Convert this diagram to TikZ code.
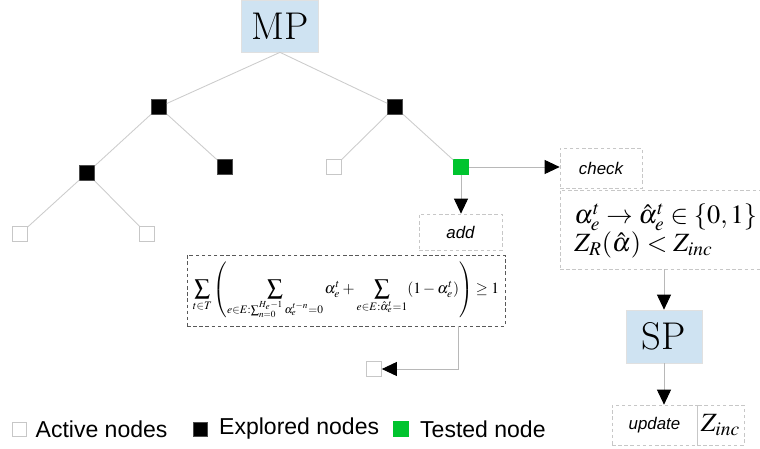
\documentclass[tikz,border=0pt]{standalone}
\usepackage{mathptmx}
\usepackage[no-math]{fontspec}
\setmainfont{Latin Modern Roman}
\newfontfamily\labelfont{Liberation Sans}
\usetikzlibrary{arrows.meta,positioning}
\definecolor{mpblue}{RGB}{207,227,242}
\definecolor{nodegreen}{RGB}{0,196,46}

\begin{document}
\begin{tikzpicture}[x=0.02cm,y=-0.02cm,
    tnode/.style={draw=black!22,minimum size=0.3cm,inner sep=0pt},
    explored/.style={tnode,fill=black,draw=black!70},
    active/.style={tnode,fill=white},
    tested/.style={tnode,fill=nodegreen,draw=nodegreen},
    branch/.style={draw=black!20,line width=0.5pt},
    flow/.style={draw=black!28,line width=0.5pt,-{Triangle[length=0.3cm,width=0.28cm,color=black]}},
    probbox/.style={draw=black!12,fill=mpblue,inner sep=0pt,font=\fontsize{22}{26}\selectfont},
    notebox/.style={draw=black!22,dash pattern=on 2pt off 1.5pt,inner sep=0pt},
    mathbox/.style={draw=black!65,dash pattern=on 2pt off 1.5pt,inner sep=0pt},
    tag/.style={font=\labelfont\itshape\fontsize{9.6}{11}\selectfont},
    legend/.style={font=\labelfont\fontsize{13.1}{16}\selectfont,inner sep=0pt,anchor=west}]
    %%%%% START %%%%%

    \useasboundingbox (0,0) rectangle (760,449);

    % master problem and search tree
    \node[probbox,minimum width=1.54cm,minimum height=1.04cm] (mp) at (280,26) {MP};

    \node[explored] (a) at (159,107) {};
    \node[explored] (b) at (395,107) {};
    \node[explored] (aa) at (87,173) {};
    \node[explored] (ab) at (225,167) {};
    \node[active] (ba) at (334,167) {};
    \node[tested] (bb) at (461,167) {};
    \node[active] (aaa) at (20,234) {};
    \node[active] (aab) at (147,234) {};

    \draw[branch] (mp.south) -- (a);
    \draw[branch] (mp.south) -- (b);
    \draw[branch] (a) -- (aa);
    \draw[branch] (a) -- (ab);
    \draw[branch] (aa) -- (aaa);
    \draw[branch] (aa) -- (aab);
    \draw[branch] (b) -- (ba);
    \draw[branch] (b) -- (bb);

    % test of the green node
    \node[notebox,tag,minimum width=1.64cm,minimum height=0.8cm] (check) at (601,168) {check};
    \node[notebox,minimum width=4.0cm,minimum height=1.58cm] (cond) at (660,229.5) {};
    \node[anchor=west,align=left,inner sep=0pt,font=\fontsize{15}{14}\selectfont] (condtext) at (574,231)
        {$\alpha_e^t \rightarrow \hat{\alpha}_e^t \in \{0,1\}$\\$Z_R(\hat{\alpha}) < Z_{inc}$};
    \node[notebox,tag,minimum width=1.66cm,minimum height=0.72cm] (add) at (460.5,232) {add};

    \node[mathbox,minimum width=6.36cm,minimum height=1.42cm,font=\fontsize{8.8}{11}\selectfont] (cut) at (346,290.5)
        {$\displaystyle\sum_{t\in T}\left(\sum_{e\in E:\sum_{n=0}^{H_e-1}\alpha_e^{t-n}=0}\alpha_e^t+\sum_{e\in E:\hat{\alpha}_e^t=1}(1-\alpha_e^t)\right)\geq 1$};

    \node[active] (leaf) at (374,369) {};
    \coordinate (drop) at ([xshift=-0.94cm]cut.south east);

    % slave problem
    \node[probbox,minimum width=1.52cm,minimum height=1.06cm] (sp) at (664,336.5) {SP};
    \node[notebox,tag,minimum width=1.7cm,minimum height=0.8cm] (update) at (654.5,425) {update};
    \node[notebox,minimum width=0.94cm,minimum height=0.8cm,font=\fontsize{15}{18}\selectfont] (zinc) at (720.5,425) {$Z_{inc}$};

    \draw[flow] (bb) -- (check.west |- bb);
    \draw[flow] (bb) -- (bb |- add.north);
    \draw[flow] (drop) |- (leaf);
    \draw[flow] (sp |- cond.south) -- (sp.north);
    \draw[flow] (sp) -- (sp |- update.north);

    % legend
    \node[active,minimum size=0.28cm] (lg1) at (19,429) {};
    \node[legend,right=0.18cm of lg1] (lgt1) {Active nodes};
    \node[explored,minimum size=0.28cm] (lg2) at (200.5,429) {};
    \node[legend,right=0.22cm of lg2] (lgt2) {Explored nodes};
    \node[tested,minimum size=0.3cm] (lg3) at (401,429) {};
    \node[legend,right=0.22cm of lg3] (lgt3) {Tested node};

    %%%%% END %%%%%
\end{tikzpicture}
\end{document}
